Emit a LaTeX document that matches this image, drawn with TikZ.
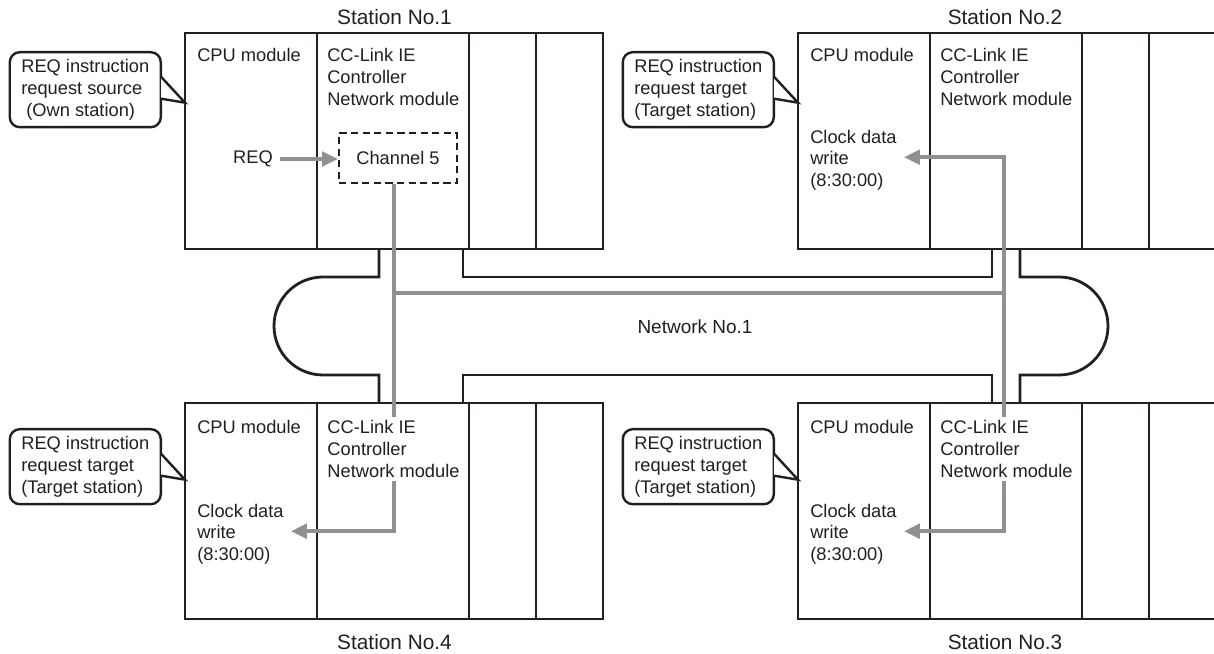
\documentclass[tikz,border=0pt]{standalone}
\usepackage{fontspec}
\setmainfont{Liberation Sans}
\usetikzlibrary{positioning,arrows.meta,calc}
\definecolor{ink}{HTML}{231F20}
\definecolor{wireGray}{HTML}{8E9094}

\begin{document}
\begin{tikzpicture}[
    x=0.25mm, y=-0.25mm,
    >={Triangle[length=4mm,width=3.6mm]},
    every node/.style={text=ink, font=\fontsize{13}{15.6}\selectfont},
    modBox/.style={draw=ink, line width=0.7mm, outer sep=0pt, inner sep=0pt, minimum height=54mm},
    cpuMod/.style={modBox, minimum width=33mm},
    ccMod/.style={modBox, minimum width=38mm},
    slotMod/.style={modBox, minimum width=16.75mm},
    modText/.style={align=left, inner sep=0pt, anchor=north west},
    maskText/.style={modText, fill=white, inner sep=0.8mm, anchor=north west},
    calloutBox/.style={draw=ink, fill=white, line width=0.6mm, rounded corners=2.5mm, align=left, inner sep=0pt, minimum width=37.75mm, minimum height=18.75mm, anchor=north east},
    calloutLine/.style={draw=ink, fill=white, line width=0.6mm, line join=miter},
    chanBox/.style={draw=ink, line width=0.5mm, dash pattern=on 1.8mm off 1.1mm, minimum width=29.5mm, minimum height=12.5mm},
    busLine/.style={draw=ink, line width=0.7mm},
    grayLine/.style={draw=wireGray, line width=1mm},
    grayArrow/.style={grayLine, ->},
    stationLabel/.style={font=\fontsize{14.8}{17}\selectfont},
    netLabel/.style={font=\fontsize{13.5}{16}\selectfont}
]
    \useasboundingbox (0,0) rectangle (1214,654);

    % Station No.1
    \node[cpuMod, anchor=north west] (s1cpu) at (185,33) {};
    \node[ccMod, right=0pt of s1cpu] (s1cc) {};
    \node[slotMod, right=0pt of s1cc] (s1a) {};
    \node[slotMod, right=0pt of s1a] (s1b) {};
    \node[stationLabel] (lbl1) at (394.5,17) {Station No.1};
    \node[modText] (s1cpuT) at (197,47.5) {CPU module};
    \node[modText] (s1ccT) at (327,48) {CC-Link IE\\Controller\\Network module};
    \node[anchor=east, inner xsep=1.75mm, inner ysep=0pt] (req) at (280,159) {REQ};
    \node[chanBox] (ch5) at (398,158) {Channel 5};

    % Station No.2
    \node[cpuMod, anchor=north west] (s2cpu) at (798,33) {};
    \node[ccMod, right=0pt of s2cpu] (s2cc) {};
    \node[slotMod, right=0pt of s2cc] (s2a) {};
    \node[slotMod, right=0pt of s2a] (s2b) {};
    \node[stationLabel] (lbl2) at (1005,17) {Station No.2};
    \node[modText] (s2cpuT) at (810,47.5) {CPU module};
    \node[modText] (s2ccT) at (940,48) {CC-Link IE\\Controller\\Network module};
    \node[modText] (w2) at (810,129.5) {Clock data\\write\\(8:30:00)};

    % Station No.3
    \node[cpuMod, anchor=north west] (s3cpu) at (798,403) {};
    \node[ccMod, right=0pt of s3cpu] (s3cc) {};
    \node[slotMod, right=0pt of s3cc] (s3a) {};
    \node[slotMod, right=0pt of s3a] (s3b) {};
    \node[stationLabel] (lbl3) at (1005,642) {Station No.3};
    \node[modText] (s3cpuT) at (810,419.5) {CPU module};
    \node[modText] (w3) at (810,503.5) {Clock data\\write\\(8:30:00)};

    % Station No.4
    \node[cpuMod, anchor=north west] (s4cpu) at (185,403) {};
    \node[ccMod, right=0pt of s4cpu] (s4cc) {};
    \node[slotMod, right=0pt of s4cc] (s4a) {};
    \node[slotMod, right=0pt of s4a] (s4b) {};
    \node[stationLabel] (lbl4) at (394.5,642) {Station No.4};
    \node[modText] (s4cpuT) at (197,419.5) {CPU module};
    \node[modText] (w4) at (197,503.5) {Clock data\\write\\(8:30:00)};

    % Callouts
    \node[calloutBox] (c1) at (162,51) {REQ instruction\\request source\\~(Own station)};
    \filldraw[calloutLine] ([shift={(-1,-13)}]c1.east) -- ([shift={(23,13)}]c1.east) -- ([shift={(-1,9)}]c1.east);
    \node[calloutBox] (c2) at (775,51) {REQ instruction\\request target\\(Target station)};
    \filldraw[calloutLine] ([shift={(-1,-13)}]c2.east) -- ([shift={(23,13)}]c2.east) -- ([shift={(-1,9)}]c2.east);
    \node[calloutBox] (c3) at (775,428) {REQ instruction\\request target\\(Target station)};
    \filldraw[calloutLine] ([shift={(-1,-13)}]c3.east) -- ([shift={(23,13)}]c3.east) -- ([shift={(-1,9)}]c3.east);
    \node[calloutBox] (c4) at (162,428) {REQ instruction\\request target\\(Target station)};
    \filldraw[calloutLine] ([shift={(-1,-13)}]c4.east) -- ([shift={(23,13)}]c4.east) -- ([shift={(-1,9)}]c4.east);

    % Network No.1
    \draw[busLine] (379,249) -- (379,277) -- (323,277) arc[start angle=90, end angle=270, radius=12.25mm] -- (379,375) -- (379,403);
    \draw[busLine] (1020,249) -- (1020,277) -- (1059,277) arc[start angle=90, end angle=-90, radius=12.25mm] -- (1020,375) -- (1020,403);
    \draw[busLine] (463,249) -- (463,277) -- (992,277) -- (992,249);
    \draw[busLine] (463,403) -- (463,375) -- (992,375) -- (992,403);
    \node[netLabel] (net) at (695,327) {Network No.1};

    % Clock data transfer
    \coordinate (tapL) at (394,293);
    \coordinate (tapR) at (1004,293);
    \draw[grayArrow] (req.east) -- (req.east -| ch5.west);
    \draw[grayLine] (tapL) -- (tapR);
    \draw[grayArrow] ([xshift=-1mm]ch5.south) |- ([shift={(7,-3)}]w4.east);
    \draw[grayLine, <->] ([shift={(7,-3)}]w2.east) -| (tapR) |- ([shift={(7,-3)}]w3.east);

    % module names over the wires
    \node[maskText] (s3ccT) at (937,417) {CC-Link IE\\Controller\\Network module};
    \node[maskText] (s4ccT) at (324,417) {CC-Link IE\\Controller\\Network module};
\end{tikzpicture}
\end{document}
